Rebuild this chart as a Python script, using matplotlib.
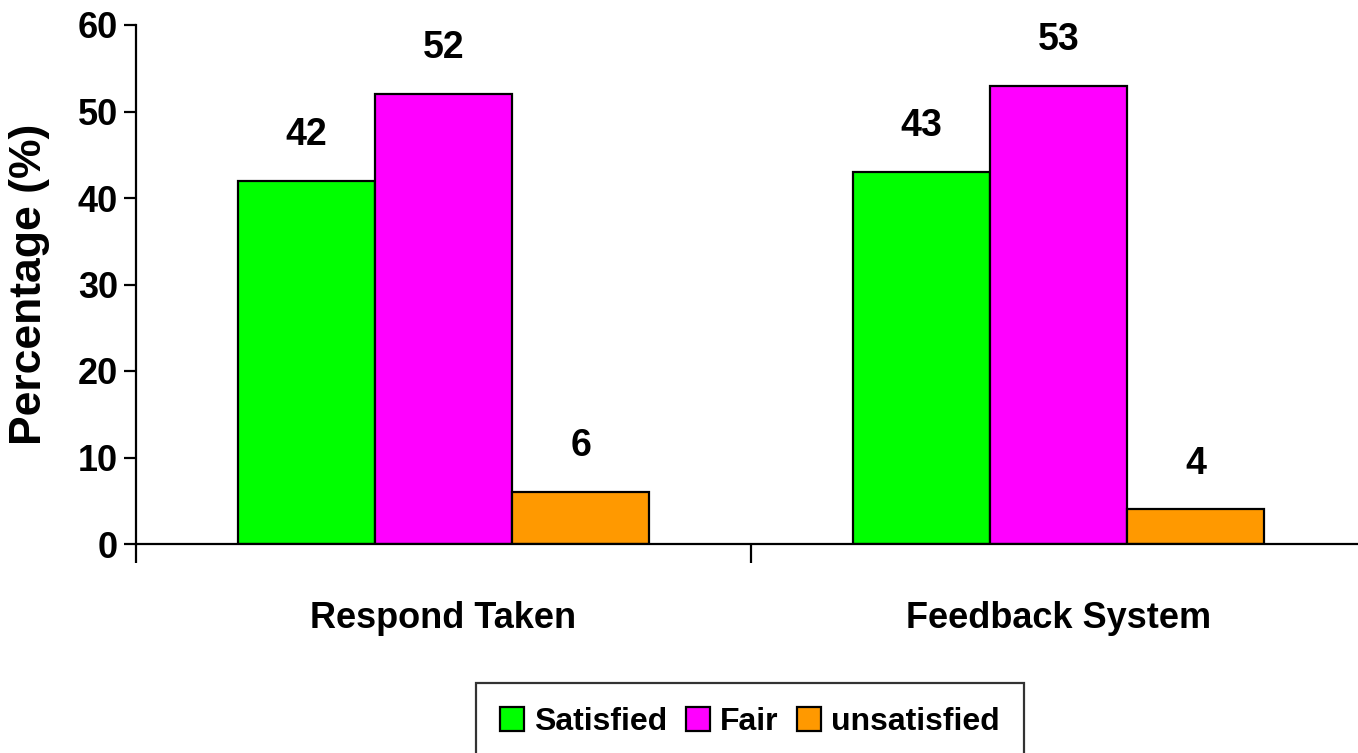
import numpy as np
import matplotlib.pyplot as plt

categories = ["Respond Taken", "Feedback System"]
series = ["Satisfied", "Fair", "unsatisfied"]
satisfied = [42, 43]
fair = [52, 53]
unsatisfied = [6, 4]
colors = ["#00FF00", "#FF00FF", "#FF9900"]

narrow = ["Liberation Sans Narrow", "Liberation Sans", "DejaVu Sans"]
plt.rcParams['font.family'] = narrow
plt.rcParams['font.weight'] = 'bold'

fig = plt.figure(figsize=(13.58, 7.53), dpi=100)
ax = fig.add_axes([136 / 1358, 209 / 753, 1230 / 1358, 519 / 753])

x = np.arange(len(categories))
w = 0.223
values = [satisfied, fair, unsatisfied]
for i, (name, vals, c) in enumerate(zip(series, values, colors)):
    pos = x + (i - 1) * w
    ax.bar(pos, vals, width=w, color=c, edgecolor="black", linewidth=1.6, label=name)
    for p, v in zip(pos, vals):
        ax.annotate(str(v), (p, v), xytext=(0, 20), textcoords="offset points",
                    ha="center", va="bottom", fontsize=27, fontweight="bold")

ax.set_xlim(-0.5, 1.5)
ax.set_ylim(0, 60)
ax.set_yticks(np.arange(0, 61, 10))
ax.tick_params(axis="y", labelsize=26, length=9, width=1.6, pad=4)
ax.set_xticks(x)
ax.set_xticklabels(categories, fontsize=26, fontweight="bold")
ax.tick_params(axis="x", which="major", length=0, pad=41)
ax.set_xticks([-0.5, 0.5, 1.5], minor=True)
ax.tick_params(axis="x", which="minor", length=14, width=1.6)
for s in ["top", "right"]:
    ax.spines[s].set_visible(False)
for s in ["left", "bottom"]:
    ax.spines[s].set_linewidth(1.6)

ax.set_ylabel("Percentage (%)", fontsize=32, fontweight="bold",
              family=["Liberation Sans", "DejaVu Sans"], labelpad=20)

leg = fig.legend(loc="upper center", bbox_to_anchor=(750 / 1358, 1 - 683 / 753), ncol=3,
                 fontsize=23, frameon=True, fancybox=False, edgecolor="black",
                 handlelength=0.75, handleheight=0.75, handletextpad=0.3, columnspacing=0.6,
                 borderpad=0.75, borderaxespad=0)
leg.get_frame().set_linewidth(1.6)
for t in leg.get_texts():
    t.set_fontweight("bold")

fig.savefig("out.png", dpi=100)
